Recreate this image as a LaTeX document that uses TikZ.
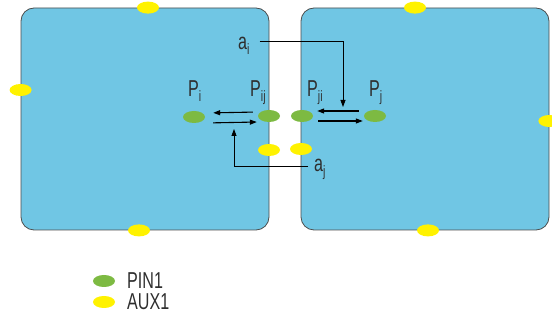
\documentclass[tikz,border=0pt]{standalone}
\usepackage{fontspec}
\setmainfont[FakeStretch=0.7]{Liberation Sans}
\usepackage{tikz}
\usetikzlibrary{shapes.geometric, arrows.meta, positioning, calc}
\definecolor{panelblue}{HTML}{70C6E4}
\definecolor{pingreen}{HTML}{7DBA42}
\definecolor{auxyellow}{HTML}{FFF200}
\definecolor{inkgray}{HTML}{2E2E2E}
\newcommand{\idx}[1]{\raisebox{-5pt}{\fontsize{15}{15}\selectfont #1}}

\begin{document}
\begin{tikzpicture}[
    x=1pt, y=-1pt,
    panel/.style = {
        rectangle, rounded corners=13pt,
        draw=gray!60!black, line width=0.8pt, fill=panelblue,
        minimum width=248pt, minimum height=222pt, inner sep=0pt
    },
    pin/.style = {ellipse, fill=pingreen,  minimum width=22pt, minimum height=12pt, inner sep=0pt},
    aux/.style = {ellipse, fill=auxyellow, minimum width=22pt, minimum height=12pt, inner sep=0pt},
    lbl/.style = {font=\fontsize{23}{24}\selectfont, text=inkgray, inner sep=0pt, anchor=base west},
    arr/.style = {-{Triangle[length=7pt,width=5pt]}, line width=1.1pt, black}
]
\useasboundingbox (0,0) rectangle (552,320);

% two panels
\node[panel] (left)  at (145,119) {};
\node[panel] (right) at (425,119) {};

% aux points on the borders
\node[aux] (auxL1) at ($(left.north)+(3,0)$) {};
\node[aux] (auxL2) at ($(left.west)+(0,-29)$) {};
\node[aux] (auxL3) at ($(left.south)+(-6,0)$) {};
\node[aux] (auxR1) at ($(right.north)+(-10,0)$) {};
\node[aux] (auxR2) at ($(right.east)+(0,2)$) {};
\node[aux] (auxR3) at ($(right.south)+(3,0)$) {};
\node[aux] (auxij) at (269,150) {};
\node[aux] (auxji) at (301,149) {};

% pins
\node[pin] (Pi)  at (194,117) {};
\node[pin] (Pij) at (269,116) {};
\node[pin] (Pji) at (302,116) {};
\node[pin] (Pj)  at (375,116) {};

\node[lbl] (lPi)  at (188,97) {P\idx{i}};
\node[lbl] (lPij) at (250,97) {P\idx{ij}};
\node[lbl] (lPji) at (307,97) {P\idx{ji}};
\node[lbl] (lPj)  at (369,97) {P\idx{j}};
\node[lbl] (ai) at (238,50) {a\idx{i}};
\node[lbl] (aj) at (314,172) {a\idx{j}};

\coordinate (ai-in) at (343,107);
\coordinate (aj-in) at (234,129);

\draw[arr, shorten <=5pt, shorten >=8pt] ([yshift=4pt]Pij.west) -- ([yshift=4pt]Pi.east);
\draw[arr, shorten <=8pt, shorten >=1pt] ([yshift=-6pt]Pi.east) -- ([yshift=-6pt]Pij.west);
\draw[arr, shorten <=5pt, shorten >=4pt] ([yshift=5pt]Pj.west) -- ([yshift=5pt]Pji.east);
\draw[arr, shorten <=5pt, shorten >=1pt] ([yshift=-5pt]Pji.east) -- ([yshift=-5pt]Pj.west);
\draw[-{Triangle[length=7pt,width=5pt]}, line width=0.8pt] ([xshift=10pt,yshift=5pt]ai.east) -| (ai-in);
\draw[-{Triangle[length=7pt,width=5pt]}, line width=0.8pt] ([xshift=-6pt,yshift=3pt]aj.west) -| (aj-in);

% legend
\node[pin] (kpin) at (104,281) {};
\node[aux] (kaux) at (104,302) {};
\node[lbl] (tpin) at (127,289) {PIN1};
\node[lbl] (taux) at (127,310) {AUX1};
\end{tikzpicture}
\end{document}
